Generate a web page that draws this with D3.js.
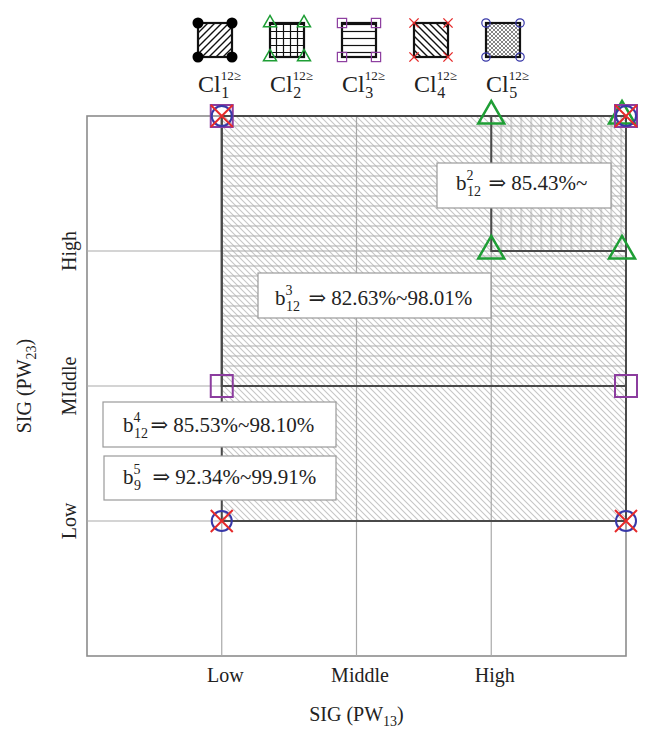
<!DOCTYPE html>
<html>
<head>
<meta charset="utf-8">
<script src="https://cdn.jsdelivr.net/npm/d3@7"></script>
<style>
  body { margin: 0; background: #fff; }
  svg { display: block; }
  text { font-family: "Liberation Serif", "DejaVu Serif", serif; fill: #222; }
</style>
</head>
<body>
<svg id="chart" width="646" height="730"></svg>
<script>
// level positions and tick labels
const levelPos = [1, 2, 3];
const xLevels = ['Low', 'Middle', 'High'];
const yLevels = ['Low', 'MIddle', 'High'];

// shaded class regions, in level units (x0..x1, y0..y1)
const regionClass = ['cl4', 'cl3', 'cl2'];
const regionX0 = [1, 1, 3];
const regionX1 = [4, 4, 4];
const regionY0 = [1, 2, 3];
const regionY1 = [4, 4, 4];

// corner markers per class
const triPoints = [[3, 4], [4, 4], [3, 3], [4, 3]];
const squarePoints = [[1, 4], [4, 4], [1, 2], [4, 2]];
const circlePoints = [[1, 4], [4, 4], [1, 1], [4, 1]];
const crossPoints = [[1, 4], [4, 4], [1, 1], [4, 1]];

// annotation texts
const annSup = ['2', '3', '4', '5'];
const annSub = ['12', '12', '12', '9'];
const annText = ['⇒ 85.43%~', '⇒ 82.63%~98.01%', '⇒ 85.53%~98.10%', '⇒ 92.34%~99.91%'];

// legend
const legendSub = ['1', '2', '3', '4', '5'];
const legendSup = '12≥';
const legendMarker = ['dot', 'tri', 'square', 'cross', 'circle'];
const legendFill = ['lg-fwd', 'lg-grid', 'lg-horiz', 'lg-back', 'lg-cross'];

const svg = d3.select('#chart');
const defs = svg.append('defs');

const x = d3.scaleLinear().domain([0, 4]).range([87, 626]);
const y = d3.scaleLinear().domain([0, 4]).range([656, 116]);

const colors = {
  tri: '#1e9e35',
  square: '#8c3d9f',
  circle: '#3838a8',
  cross: '#e62a2a',
  dot: '#000'
};

function hatch(id, kind, step, color, sw, ox, oy) {
  const s = step;
  const p = defs.append('pattern')
    .attr('id', id)
    .attr('patternUnits', 'userSpaceOnUse')
    .attr('width', s)
    .attr('height', s)
    .attr('x', ox || 0)
    .attr('y', oy || 0);
  let d = '';
  const back = `M0,0L${s},${s}M-1,${s - 1}L1,${s + 1}M${s - 1},-1L${s + 1},1`;
  const fwd = `M0,${s}L${s},0M-1,1L1,-1M${s - 1},${s + 1}L${s + 1},${s - 1}`;
  const hor = `M0,${s / 2}L${s},${s / 2}`;
  const ver = `M${s / 2},0L${s / 2},${s}`;
  if (kind === 'back') d = back;
  if (kind === 'fwd') d = fwd;
  if (kind === 'horiz') d = hor;
  if (kind === 'vert') d = ver;
  if (kind === 'grid') d = hor + ver;
  if (kind === 'cross') d = back + fwd;
  p.append('path')
    .attr('d', d)
    .attr('fill', 'none')
    .attr('stroke', color)
    .attr('stroke-width', sw);
}

// plot patterns
hatch('cl4', 'back', 6, '#c6c6c6', 1.1);
hatch('cl3', 'horiz', 10, '#adadad', 1, 0, y(4) - 5);
hatch('cl2', 'vert', 10, '#adadad', 1, x(3) - 5, 0);

// legend patterns
hatch('lg-fwd', 'fwd', 7, '#111', 1.4);
hatch('lg-grid', 'grid', 7, '#111', 1.2);
hatch('lg-horiz', 'horiz', 7, '#111', 1.2);
hatch('lg-back', 'back', 7, '#111', 1.4);
hatch('lg-cross', 'cross', 4, '#666', 0.8);

// frame
svg.append('rect')
  .attr('x', x(0))
  .attr('y', y(4))
  .attr('width', x(4) - x(0))
  .attr('height', y(0) - y(4))
  .attr('fill', '#fff')
  .attr('stroke', '#8c8c8c')
  .attr('stroke-width', 1.6);

// region fills
const regions = regionClass.map((c, i) => ({
  cls: c, x0: regionX0[i], x1: regionX1[i], y0: regionY0[i], y1: regionY1[i]
}));

svg.append('g').selectAll('rect')
  .data(regions)
  .join('rect')
  .attr('x', d => x(d.x0))
  .attr('y', d => y(d.y1))
  .attr('width', d => x(d.x1) - x(d.x0))
  .attr('height', d => y(d.y0) - y(d.y1))
  .attr('fill', d => `url(#${d.cls})`)
  .attr('stroke', 'none');

// gridlines
const grid = svg.append('g');
levelPos.forEach(v => {
  grid.append('line')
    .attr('x1', x(v)).attr('x2', x(v))
    .attr('y1', y(4)).attr('y2', y(0))
    .attr('stroke', '#a9a9a9').attr('stroke-width', 1.2);
  grid.append('line')
    .attr('x1', x(0)).attr('x2', x(4))
    .attr('y1', y(v)).attr('y2', y(v))
    .attr('stroke', '#a9a9a9').attr('stroke-width', 1.2);
});

// region outlines
svg.append('g').selectAll('rect')
  .data(regions)
  .join('rect')
  .attr('x', d => x(d.x0))
  .attr('y', d => y(d.y1))
  .attr('width', d => x(d.x1) - x(d.x0))
  .attr('height', d => y(d.y0) - y(d.y1))
  .attr('fill', 'none')
  .attr('stroke', '#4a4a4a')
  .attr('stroke-width', 2);

// axis tick labels
const xAxis = d3.axisBottom(x)
  .tickValues(levelPos)
  .tickFormat((d, i) => xLevels[i])
  .tickSize(0)
  .tickPadding(0);
const gx = svg.append('g')
  .attr('transform', `translate(3, ${y(0)})`)
  .call(xAxis);
gx.select('.domain').remove();
gx.selectAll('text')
  .attr('y', 26)
  .attr('dy', 0)
  .style('font-family', '"Liberation Serif", serif')
  .style('font-size', '20px')
  .attr('fill', '#222');

svg.append('g').selectAll('text')
  .data(levelPos)
  .join('text')
  .attr('transform', d => `translate(76, ${y(d)}) rotate(-90)`)
  .attr('text-anchor', 'middle')
  .attr('font-size', 20)
  .text((d, i) => yLevels[i]);

// axis titles
const xt = svg.append('text')
  .attr('x', x(2))
  .attr('y', 721)
  .attr('text-anchor', 'middle')
  .attr('font-size', 20);
xt.append('tspan').text('SIG (PW');
xt.append('tspan').attr('font-size', 14).attr('dy', 5).text('13');
xt.append('tspan').attr('dy', -5).text(')');

const yt = svg.append('text')
  .attr('transform', `translate(31, ${y(2)}) rotate(-90)`)
  .attr('text-anchor', 'middle')
  .attr('font-size', 20);
yt.append('tspan').text('SIG (PW');
yt.append('tspan').attr('font-size', 14).attr('dy', 5).text('23');
yt.append('tspan').attr('dy', -5).text(')');

// markers
function marker(g, type, cx, cy, k) {
  const c = colors[type];
  if (type === 'tri') {
    g.append('path')
      .attr('transform', `translate(${cx},${cy})`)
      .attr('d', d3.symbol(d3.symbolTriangle, 293 * k * k)())
      .attr('fill', 'none').attr('stroke', c).attr('stroke-width', 2.5 * Math.max(k, 0.6));
  } else if (type === 'square') {
    const s = 22 * k;
    g.append('rect')
      .attr('x', cx - s / 2).attr('y', cy - s / 2)
      .attr('width', s).attr('height', s)
      .attr('fill', 'none').attr('stroke', c).attr('stroke-width', 2 * Math.max(k, 0.6));
  } else if (type === 'circle') {
    g.append('circle')
      .attr('cx', cx).attr('cy', cy).attr('r', 10 * k)
      .attr('fill', 'none').attr('stroke', c).attr('stroke-width', 2 * Math.max(k, 0.6));
  } else if (type === 'cross') {
    const a = 11 * k;
    g.append('path')
      .attr('d', `M${cx - a},${cy - a}L${cx + a},${cy + a}M${cx - a},${cy + a}L${cx + a},${cy - a}`)
      .attr('fill', 'none').attr('stroke', c).attr('stroke-width', 2 * Math.max(k, 0.7));
  } else if (type === 'dot') {
    g.append('circle')
      .attr('cx', cx).attr('cy', cy).attr('r', 12 * k)
      .attr('fill', c);
  }
}

const mg = svg.append('g');
triPoints.forEach(p => marker(mg, 'tri', x(p[0]) - (p[0] === 4 ? 4 : 0), y(p[1]), 1));
squarePoints.forEach(p => marker(mg, 'square', x(p[0]), y(p[1]), 1));
circlePoints.forEach(p => marker(mg, 'circle', x(p[0]), y(p[1]), 1));
crossPoints.forEach(p => marker(mg, 'cross', x(p[0]), y(p[1]), 1));

// one text element: base, superscript over subscript, then the rest
function stacked(g, px, py, base, sup, sub, rest, opts) {
  const t = g.append('text')
    .attr('x', px).attr('y', py)
    .attr('font-size', opts.size);
  const tb = t.append('tspan').text(base);
  const bw = tb.node().getComputedTextLength();
  t.append('tspan')
    .attr('font-size', opts.supSize)
    .attr('dy', -opts.supUp)
    .text(sup);
  const ts = t.append('tspan')
    .attr('x', px + bw + 0.5)
    .attr('font-size', opts.subSize)
    .attr('dy', opts.supUp + opts.subDown)
    .text(sub);
  const sw = ts.node().getComputedTextLength();
  if (rest) {
    t.append('tspan')
      .attr('x', px + bw + sw + opts.gap)
      .attr('dy', -opts.subDown)
      .text(rest);
  }
  return t;
}

// annotation boxes (pixel layout)
const annBox = [
  { x: 437, y: 163, w: 174, h: 45, tx: 456, ty: 190, gap: 8 },
  { x: 258, y: 273, w: 233, h: 45, tx: 275, ty: 305, gap: 9 },
  { x: 103, y: 402, w: 233, h: 45, tx: 123, ty: 432, gap: 3 },
  { x: 104, y: 456, w: 232, h: 44, tx: 123, ty: 484, gap: 12 }
];

const ag = svg.append('g');
annBox.forEach((b, i) => {
  ag.append('rect')
    .attr('x', b.x).attr('y', b.y)
    .attr('width', b.w).attr('height', b.h)
    .attr('fill', '#fff')
    .attr('stroke', '#9a9a9a')
    .attr('stroke-width', 1.2);
  stacked(ag, b.tx, b.ty, 'b', annSup[i], annSub[i], annText[i],
    { size: 21, supSize: 14, subSize: 14, supUp: 10, subDown: 6, gap: b.gap });
});

// legend
const lg = svg.append('g');
const iconSize = 34;
legendSub.forEach((s, i) => {
  const left = 198 + i * 72;
  const top = 23;
  lg.append('rect')
    .attr('x', left).attr('y', top)
    .attr('width', iconSize).attr('height', iconSize)
    .attr('fill', `url(#${legendFill[i]})`)
    .attr('stroke', '#111')
    .attr('stroke-width', 2.2);
  const corners = [[left, top], [left + iconSize, top], [left, top + iconSize], [left + iconSize, top + iconSize]];
  const k = legendMarker[i] === 'dot' ? 0.46 : (legendMarker[i] === 'tri' ? 0.5 : 0.42);
  corners.forEach(c => marker(lg, legendMarker[i], c[0], c[1], k));

  stacked(lg, left, 92, 'Cl', legendSup, s, null,
    { size: 24, supSize: 13, subSize: 16, supUp: 12, subDown: 6, gap: 0 });
});
</script>
</body>
</html>
